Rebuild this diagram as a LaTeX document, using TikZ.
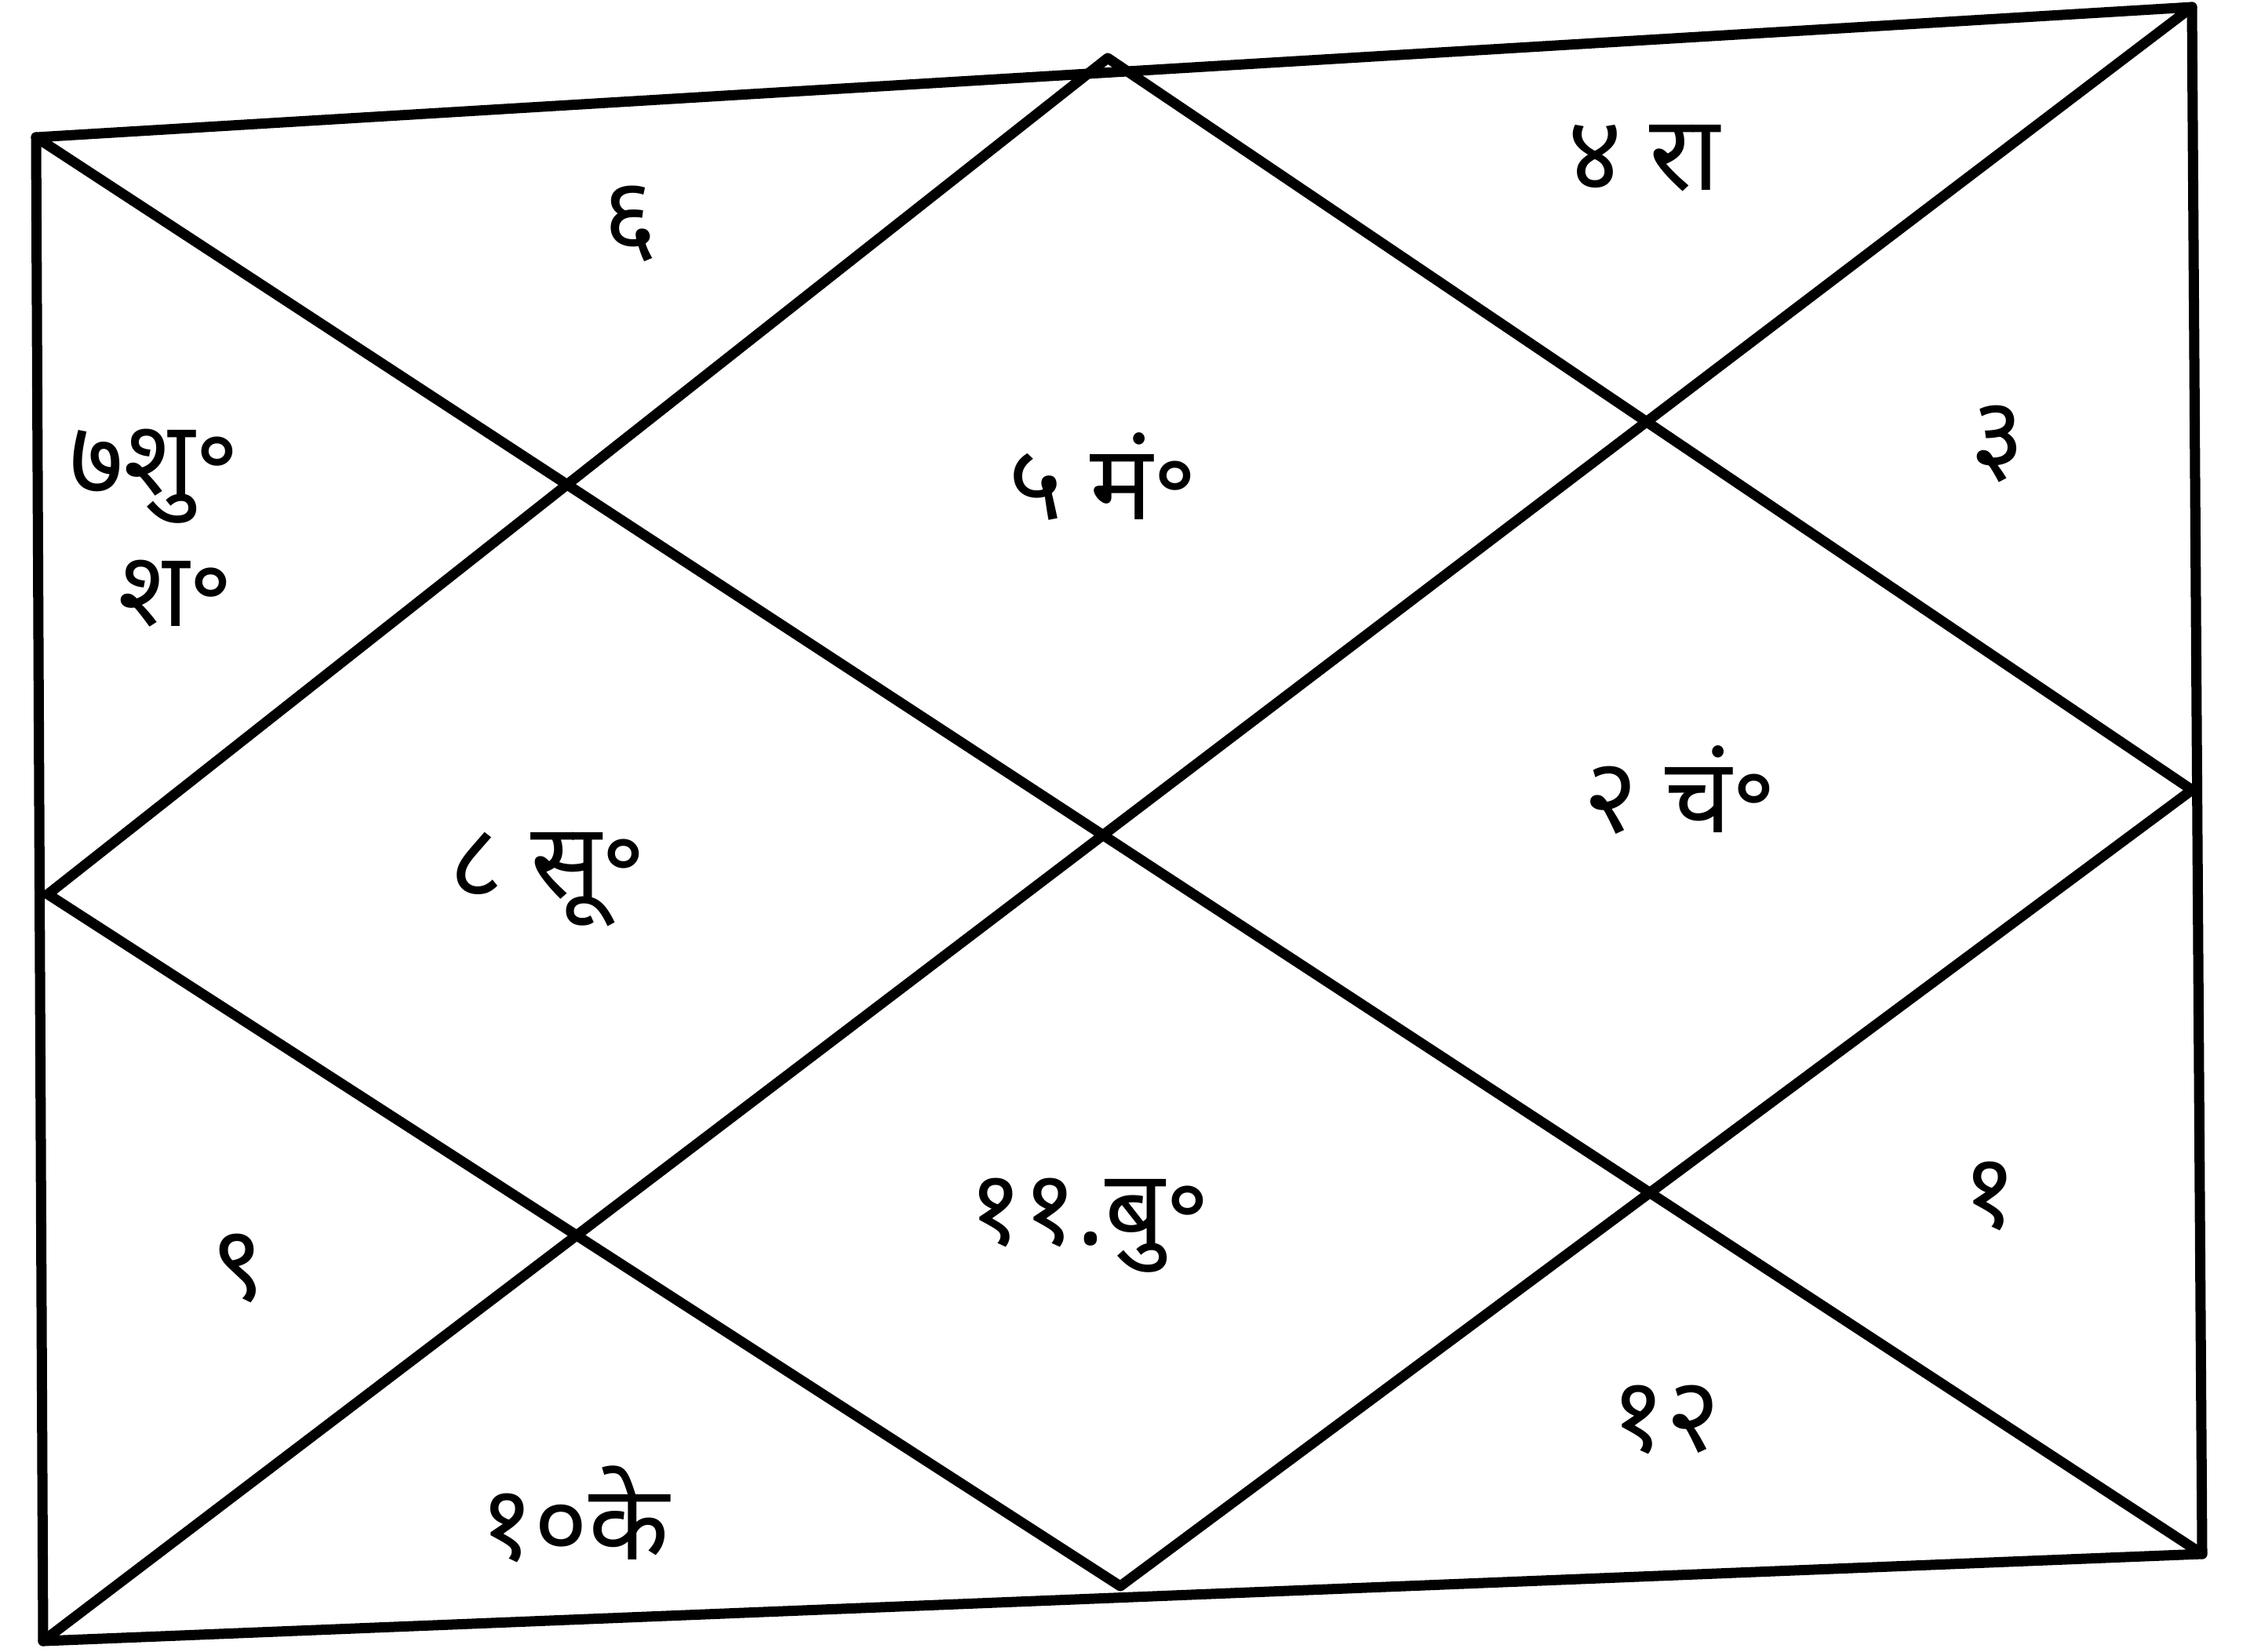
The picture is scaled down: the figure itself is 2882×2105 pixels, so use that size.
\documentclass[tikz,border=0pt]{standalone}
\usepackage{fontspec}
\newfontfamily\devfont[Script=Devanagari]{Noto Sans}
\usepackage{tikz}
\usetikzlibrary{calc}

\begin{document}
\begin{tikzpicture}[
 x=0.01cm, y=-0.01cm,
 ln/.style={line width=1.3mm,line join=round,line cap=round},
 lbl/.style={font=\devfont\bfseries\fontsize{38}{44}\selectfont,align=center,inner sep=0pt}
]
\useasboundingbox (0,0) rectangle (2882,2105);
% corners and midpoints of the frame
\coordinate (tl) at (46,175);
\coordinate (tr) at (2794,9);
\coordinate (br) at (2807,1981);
\coordinate (bl) at (55,2092);
\coordinate (tm) at (1412,74);
\coordinate (rm) at (2794,1007);
\coordinate (bm) at (1428,2022);
\coordinate (lm) at (61,1140);
% frame, diagonals and inner diamond
\draw[ln] (tl) -- (tr) -- (br) -- (bl) -- cycle;
\draw[ln] (tl) -- (br);
\draw[ln] (tr) -- (bl);
\draw[ln] (tm) -- (rm) -- (bm) -- (lm) -- cycle;
% houses
\node[lbl] (h6) at (803,285) {६};
\node[lbl] (h4) at (2095,202) {४ रा};
\node[lbl] (h7) at (197,607) {७शु॰};
\node[lbl] (h7b) at (224,757) {श॰};
\node[lbl] (h5) at (1406,607) {५ मं॰};
\node[lbl] (h3) at (2546,566) {३};
\node[lbl] (h2) at (2141,1007) {२ चं॰};
\node[lbl] (h8) at (698,1121) {८ सू॰};
\node[lbl] (h9) at (303,1617) {९};
\node[lbl] (h11) at (1388,1562) {११.बु॰};
\node[lbl] (h1) at (2536,1525) {१};
\node[lbl] (h12) at (2123,1810) {१२};
\node[lbl] (h10) at (732,1930) {१०के};
\end{tikzpicture}
\end{document}
